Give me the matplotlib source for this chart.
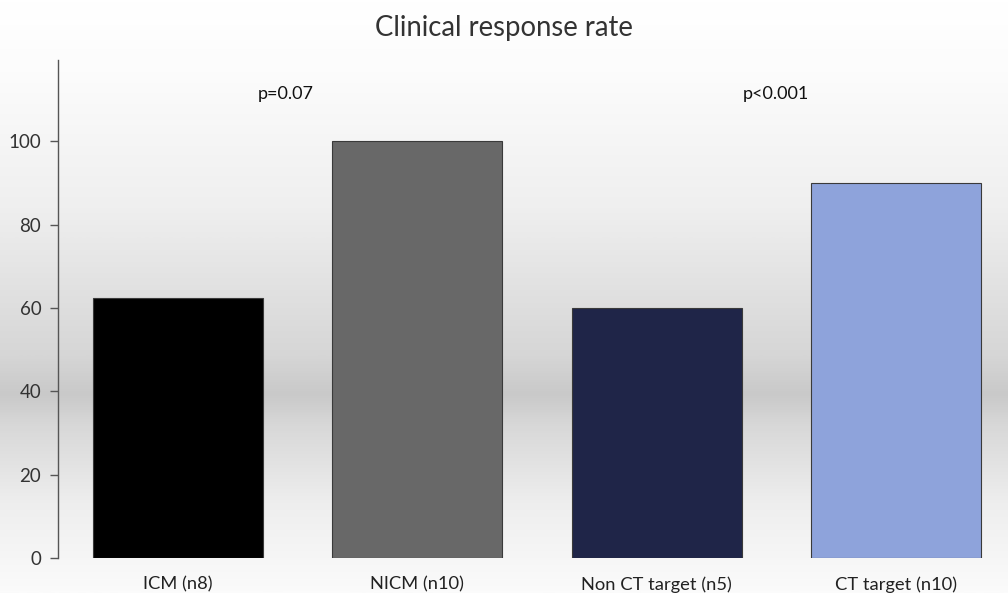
import numpy as np
import matplotlib
matplotlib.use("Agg")
import matplotlib.pyplot as plt
from matplotlib.colors import LinearSegmentedColormap

categories = ["ICM (n8)", "NICM (n10)", "Non CT target (n5)", "CT target (n10)"]
values = [62.5, 100, 60, 90]
colors = ["#000000", "#686868", "#1f2548", "#8ea3db"]
yticks = [0, 20, 40, 60, 80, 100]
pvals = ["p=0.07", "p<0.001"]
pval_x = [0.45, 2.5]

plt.rcParams['font.family'] = ['Lato', 'DejaVu Sans']

W, H = 1008, 593
fig = plt.figure(figsize=(W / 100, H / 100), dpi=100)

# background gradient
bg = fig.add_axes([0, 0, 1, 1], zorder=-10)
cmap = LinearSegmentedColormap.from_list(
    "bg", [(0.0, "#ffffff"), (0.12, "#fcfcfc"), (0.35, "#efefef"), (0.6, "#d6d6d6"),
           (0.665, "#c9c9c9"), (0.72, "#d8d8d8"), (0.85, "#eeeeee"), (1.0, "#fbfbfb")])
grad = np.linspace(0, 1, 512).reshape(-1, 1)
bg.imshow(grad, aspect="auto", cmap=cmap, extent=[0, 1, 0, 1], origin="upper")
bg.axis("off")

left = 58 / W
bottom = 1 - 558 / H
top = 1 - 60 / H
ax = fig.add_axes([left, bottom, 1.0 - left, top - bottom])
ax.patch.set_alpha(0)

x = np.arange(len(categories))
ax.bar(x, values, width=0.71, color=colors, edgecolor="#3a3a3a", linewidth=0.8)

ax.set_xlim(-0.5, 3.468)
ax.set_ylim(0, 119.5)
ax.set_yticks(yticks)
ax.set_yticklabels([str(t) for t in yticks], fontsize=13.5, color="#333333")
ax.set_xticks(x)
ax.set_xticklabels(categories, fontsize=13.2, color="#222222")
ax.tick_params(axis="y", direction="out", length=6, width=1, color="#555555", pad=6)
ax.tick_params(axis="x", length=0, pad=13)
for s in ["top", "right", "bottom"]:
    ax.spines[s].set_visible(False)
ax.spines["left"].set_color("#555555")
ax.spines["left"].set_linewidth(1)

for px, pt in zip(pval_x, pvals):
    ax.text(px, 111.3, pt, ha="center", va="center", fontsize=13, color="#111111")

fig.text(0.5, 1 - 28 / H, "Clinical response rate", ha="center", va="center",
         fontsize=19.8, color="#333333")

fig.savefig("out.png", dpi=100)
